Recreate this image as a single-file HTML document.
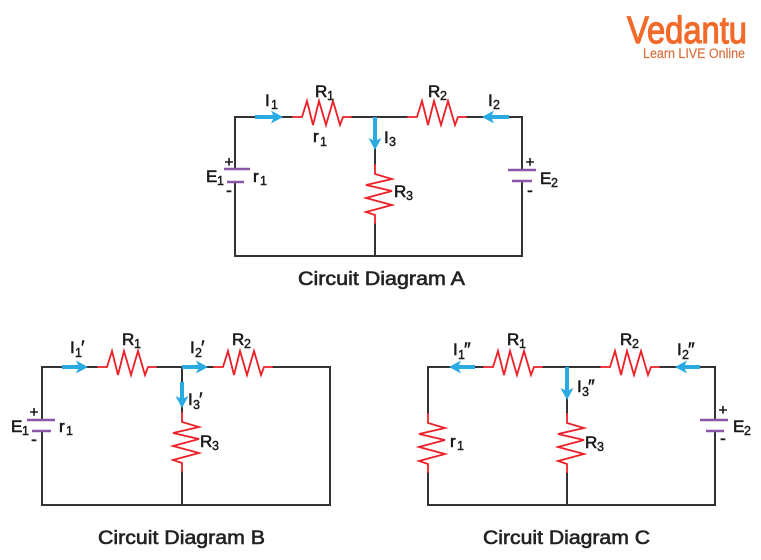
<!DOCTYPE html>
<html>
<head>
<meta charset="utf-8">
<style>
  html,body{margin:0;padding:0;background:#fff;}
  svg{display:block;}
  .w{stroke:#333;stroke-width:2;fill:none;stroke-linecap:square;}
  .r{stroke:#ec2027;stroke-width:1.8;fill:none;stroke-linejoin:miter;}
  .b{stroke:#8b55a8;stroke-width:2.6;fill:none;}
  .a{fill:#29aae2;}
  .as{stroke:#29aae2;stroke-width:4;}
  text{font-family:"Liberation Sans",sans-serif;fill:#1a1a1a;}
  .l{font-size:17px;stroke:#1a1a1a;stroke-width:0.6;}
  .s{font-size:12.5px;stroke:#1a1a1a;stroke-width:0.45;}
  .p{font-size:15px;stroke:#1a1a1a;stroke-width:0.5;}
  .q{font-size:19px;stroke:#1a1a1a;stroke-width:0.5;}
  .c{font-size:19px;stroke:#222;stroke-width:0.6;fill:#222;}
</style>
</head>
<body>
<svg width="761" height="560" viewBox="0 0 761 560" xmlns="http://www.w3.org/2000/svg">
  <rect width="761" height="560" fill="#fff"/>

  <!-- Logo -->
  <text x="627" y="43" font-size="38" textLength="120" lengthAdjust="spacingAndGlyphs" style="fill:#f26a2a;stroke:#f26a2a;stroke-width:1.2">Vedantu</text>
  <text x="643" y="58" font-size="13.5" textLength="102" lengthAdjust="spacingAndGlyphs" style="fill:#d9703e;stroke:#d9703e;stroke-width:0.2">Learn LIVE Online</text>

  <!-- ================= Diagram A ================= -->
  <path class="w" d="M235 117 V169 M235 182 V256 H522 V181 M522 170 V117 H467 M352 117 H407 M292 117 H235 M375 117 V164 M375 224 V256"/>
  <path class="r" d="M292 117 H302 L307 101 L313 125 L319 101 L326 125 L333 101 L340 125 L343 117 H352"/>
  <path class="r" d="M407 117 H417 L422 101 L428 125 L434 101 L441 125 L448 101 L455 125 L458 117 H467"/>
  <path class="r" d="M375 164 V174 L392 179 L366 185 L392 191 L366 198 L392 205 L366 212 L375 215 V224"/>
  <path class="b" d="M224 169 H250 M227 182 H244"/>
  <path class="b" d="M508 170 H536 M512 181 H532"/>
  <line class="as" x1="255" y1="117" x2="276" y2="117"/>
  <polygon class="a" points="283,117 271,110.5 274,117 271,123.5"/>
  <line class="as" x1="509" y1="117" x2="489" y2="117"/>
  <polygon class="a" points="482,117 494,110.5 491,117 494,123.5"/>
  <line class="as" x1="375" y1="117" x2="375" y2="143"/>
  <polygon class="a" points="375,150 368.5,138 375,141 381.5,138"/>
  <text class="l" x="265" y="106">I</text><text class="s" x="271" y="109">1</text>
  <text class="l" x="315" y="97">R</text><text class="s" x="327" y="100">1</text>
  <text class="l" x="313" y="142">r</text><text class="s" x="320" y="146">1</text>
  <text class="l" x="384" y="143">I</text><text class="s" x="389" y="146">3</text>
  <text class="l" x="394" y="197">R</text><text class="s" x="406" y="200">3</text>
  <text class="l" x="428" y="97">R</text><text class="s" x="440" y="100">2</text>
  <text class="l" x="488" y="106">I</text><text class="s" x="493" y="109">2</text>
  <text class="l" x="206" y="182">E</text><text class="s" x="217" y="185">1</text>
  <text class="l" x="253" y="182">r</text><text class="s" x="260" y="185">1</text>
  <text class="p" x="229" y="167" text-anchor="middle">+</text>
  <text class="l" x="229" y="196" text-anchor="middle">-</text>
  <text class="l" x="540" y="184">E</text><text class="s" x="551" y="187">2</text>
  <text class="p" x="530" y="167" text-anchor="middle">+</text>
  <text class="l" x="530" y="196" text-anchor="middle">-</text>
  <text class="c" x="298" y="285" textLength="167" lengthAdjust="spacingAndGlyphs">Circuit Diagram A</text>

  <!-- ================= Diagram B ================= -->
  <path class="w" d="M42 367 V420 M42 431 V505 H330 V367 H273 M213 367 H157 M97 367 H42 M182 367 V412 M182 472 V505"/>
  <path class="r" d="M97 367 H107 L112 351 L118 375 L124 351 L131 375 L138 351 L145 375 L148 367 H157"/>
  <path class="r" d="M213 367 H223 L228 351 L234 375 L240 351 L247 375 L254 351 L261 375 L264 367 H273"/>
  <path class="r" d="M182 412 V422 L199 427 L173 433 L199 439 L173 446 L199 453 L173 460 L182 463 V472"/>
  <path class="b" d="M27 420 H55 M32 431 H51"/>
  <line class="as" x1="62" y1="367" x2="81" y2="367"/>
  <polygon class="a" points="88,367 76,360.5 79,367 76,373.5"/>
  <line class="as" x1="182" y1="367" x2="201" y2="367"/>
  <polygon class="a" points="208,367 196,360.5 199,367 196,373.5"/>
  <line class="as" x1="182" y1="382" x2="182" y2="401"/>
  <polygon class="a" points="182,408 175.5,396 182,399 188.5,396"/>
  <text class="l" x="70" y="353">I</text><text class="s" x="75" y="357">1</text><text class="q" x="81" y="354">′</text>
  <text class="l" x="122" y="345">R</text><text class="s" x="134" y="348">1</text>
  <text class="l" x="190" y="353">I</text><text class="s" x="195" y="357">2</text><text class="q" x="201" y="354">′</text>
  <text class="l" x="232" y="345">R</text><text class="s" x="244" y="348">2</text>
  <text class="l" x="188" y="405">I</text><text class="s" x="193" y="409">3</text><text class="q" x="199" y="406">′</text>
  <text class="l" x="200" y="447">R</text><text class="s" x="212" y="450">3</text>
  <text class="l" x="11" y="432">E</text><text class="s" x="22" y="435">1</text>
  <text class="l" x="59" y="432">r</text><text class="s" x="66" y="435">1</text>
  <text class="p" x="34" y="417" text-anchor="middle">+</text>
  <text class="l" x="34" y="445" text-anchor="middle">-</text>
  <text class="c" x="98" y="544" textLength="167" lengthAdjust="spacingAndGlyphs">Circuit Diagram B</text>

  <!-- ================= Diagram C ================= -->
  <path class="w" d="M428 367 V413 M428 473 V505 H715 V431 M715 420 V367 H660 M600 367 H543 M483 367 H428 M567 367 V413 M567 473 V505"/>
  <path class="r" d="M483 367 H493 L498 351 L504 375 L510 351 L517 375 L524 351 L531 375 L534 367 H543"/>
  <path class="r" d="M600 367 H610 L615 351 L621 375 L627 351 L634 375 L641 351 L648 375 L651 367 H660"/>
  <path class="r" d="M428 413 V423 L445 428 L419 434 L445 440 L419 447 L445 454 L419 461 L428 464 V473"/>
  <path class="r" d="M567 413 V423 L584 428 L558 434 L584 440 L558 447 L584 454 L558 461 L567 464 V473"/>
  <path class="b" d="M700 420 H728 M706 431 H724"/>
  <line class="as" x1="475" y1="367" x2="456" y2="367"/>
  <polygon class="a" points="449,367 461,360.5 458,367 461,373.5"/>
  <line class="as" x1="700" y1="367" x2="682" y2="367"/>
  <polygon class="a" points="675,367 687,360.5 684,367 687,373.5"/>
  <line class="as" x1="567" y1="367" x2="567" y2="393"/>
  <polygon class="a" points="567,400 560.5,388 567,391 573.5,388"/>
  <text class="l" x="453" y="355">I</text><text class="s" x="458" y="359">1</text><text class="q" x="464" y="356">″</text>
  <text class="l" x="507" y="345">R</text><text class="s" x="519" y="348">1</text>
  <text class="l" x="620" y="345">R</text><text class="s" x="632" y="348">2</text>
  <text class="l" x="677" y="355">I</text><text class="s" x="682" y="359">2</text><text class="q" x="688" y="356">″</text>
  <text class="l" x="577" y="392">I</text><text class="s" x="582" y="396">3</text><text class="q" x="588" y="393">″</text>
  <text class="l" x="585" y="448">R</text><text class="s" x="597" y="451">3</text>
  <text class="l" x="450" y="447">r</text><text class="s" x="457" y="450">1</text>
  <text class="l" x="733" y="432">E</text><text class="s" x="744" y="435">2</text>
  <text class="p" x="723" y="415" text-anchor="middle">+</text>
  <text class="l" x="723" y="444" text-anchor="middle">-</text>
  <text class="c" x="483" y="544" textLength="167" lengthAdjust="spacingAndGlyphs">Circuit Diagram C</text>
</svg>
</body>
</html>
